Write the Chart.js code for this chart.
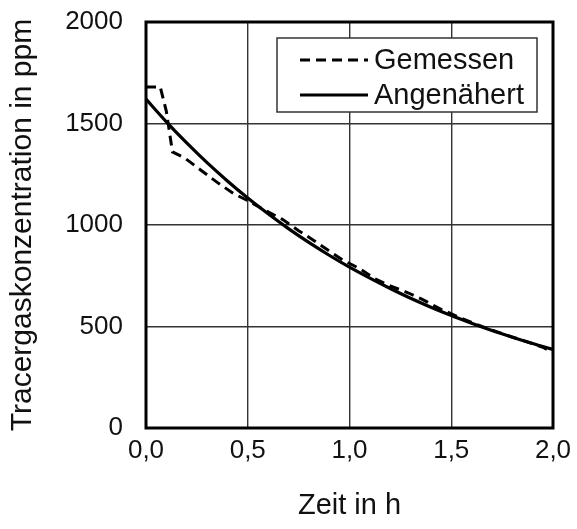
<!DOCTYPE html>
<html>
<head>
<meta charset="utf-8">
<script src="https://cdn.jsdelivr.net/npm/chart.js@4"></script>
<style>
html,body{margin:0;padding:0;background:#fff;}
#wrap{width:577px;height:529px;position:relative;}
</style>
</head>
<body>
<div id="wrap"><canvas id="c" width="577" height="529"></canvas></div>
<script>
// Measured (Gemessen)
const measuredTime = [0, 0.07, 0.10, 0.13, 0.19, 0.27, 0.35, 0.43, 0.50, 0.59, 0.67, 0.75, 0.83, 0.90, 0.97, 1.05, 1.12, 1.20, 1.29, 1.36, 1.45, 1.55, 1.65, 1.75, 1.85, 1.95, 2.00];
const measuredPpm  = [1680, 1680, 1560, 1360, 1330, 1270, 1210, 1155, 1120, 1070, 1028, 972, 920, 872, 826, 785, 738, 700, 665, 632, 585, 540, 500, 465, 432, 398, 372];
// Approximated (Angenähert)
const approxTime = [0, 0.1, 0.2, 0.3, 0.4, 0.5, 0.6, 0.7, 0.8, 0.9, 1.0, 1.1, 1.2, 1.3, 1.4, 1.5, 1.6, 1.7, 1.8, 1.9, 2.0];
const approxPpm  = [1620, 1508, 1404, 1307, 1217, 1133, 1055, 982, 914, 851, 792, 738, 687, 639, 595, 554, 516, 480, 447, 416, 387];
// Axis ticks
const xTicks = [0, 0.5, 1.0, 1.5, 2.0];
const yTicks = [0, 500, 1000, 1500, 2000];
const seriesLabels = ['Gemessen', 'Angenähert'];
const xTitle = 'Zeit in h';
const yTitle = 'Tracergaskonzentration in ppm';

const FONT = "'Liberation Sans', Arial, sans-serif";

const toPts = (xs, ys) => xs.map((x, i) => ({x: x, y: ys[i]}));

const frameLegend = {
  id: 'frameLegend',
  afterDraw(chart) {
    const ctx = chart.ctx;
    const a = chart.chartArea;
    ctx.save();
    // frame
    ctx.strokeStyle = '#000';
    ctx.lineWidth = 3;
    ctx.strokeRect(a.left, a.top, a.right - a.left, a.bottom - a.top);
    // legend box
    const bx = 277, by = 38, bw = 260, bh = 74;
    ctx.fillStyle = '#fff';
    ctx.fillRect(bx, by, bw, bh);
    ctx.strokeStyle = '#333';
    ctx.lineWidth = 1.5;
    ctx.strokeRect(bx, by, bw, bh);
    const rows = [60, 95];
    chart.data.datasets.forEach((ds, i) => {
      const y = rows[i];
      ctx.beginPath();
      ctx.strokeStyle = ds.borderColor;
      ctx.lineWidth = ds.borderWidth;
      ctx.setLineDash(ds.borderDash || []);
      ctx.lineCap = 'butt';
      ctx.moveTo(300, y);
      ctx.lineTo(368, y);
      ctx.stroke();
      ctx.setLineDash([]);
      ctx.fillStyle = '#111';
      ctx.font = '29px ' + FONT;
      ctx.textBaseline = 'middle';
      ctx.textAlign = 'left';
      ctx.fillText(ds.label, 374, y + 1);
    });
    ctx.restore();
  }
};

new Chart(document.getElementById('c'), {
  type: 'scatter',
  data: {
    datasets: [
      {
        label: seriesLabels[0],
        data: toPts(measuredTime, measuredPpm),
        showLine: true,
        borderColor: '#000',
        borderWidth: 3,
        borderDash: [10, 6],
        pointRadius: 0,
        tension: 0,
        fill: false
      },
      {
        label: seriesLabels[1],
        data: toPts(approxTime, approxPpm),
        showLine: true,
        borderColor: '#000',
        borderWidth: 3.2,
        pointRadius: 0,
        cubicInterpolationMode: 'monotone',
        fill: false
      }
    ]
  },
  options: {
    responsive: false,
    animation: false,
    devicePixelRatio: 1,
    layout: { padding: { top: 22, right: 24, bottom: 0, left: 0 } },
    plugins: { legend: { display: false }, tooltip: { enabled: false } },
    scales: {
      x: {
        type: 'linear',
        min: 0, max: 2,
        afterBuildTicks(scale) { scale.ticks = xTicks.map(v => ({value: v})); },
        afterFit(scale) { scale.height = 101; scale.paddingLeft = 0; scale.paddingRight = 0; },
        grid: { color: '#333', lineWidth: 1.4, drawTicks: false },
        border: { display: false },
        ticks: {
          padding: 7,
          color: '#111',
          font: { family: FONT, size: 26 },
          callback: v => v.toFixed(1).replace('.', ',')
        },
        title: {
          display: true, text: xTitle, color: '#111',
          font: { family: FONT, size: 29 },
          padding: { top: 0, bottom: 6 }
        }
      },
      y: {
        min: 0, max: 2000,
        afterBuildTicks(scale) { scale.ticks = yTicks.map(v => ({value: v})); },
        afterFit(scale) { scale.width = 146; scale.paddingTop = 0; scale.paddingBottom = 0; },
        grid: { color: '#333', lineWidth: 1.4, drawTicks: false },
        border: { display: false },
        ticks: {
          padding: 23,
          color: '#111',
          font: { family: FONT, size: 26 },
          callback: v => String(v)
        },
        title: {
          display: true, text: yTitle, color: '#111',
          font: { family: FONT, size: 30 },
          padding: { top: 5, bottom: 0 }
        }
      }
    }
  },
  plugins: [frameLegend]
});
</script>
</body>
</html>
